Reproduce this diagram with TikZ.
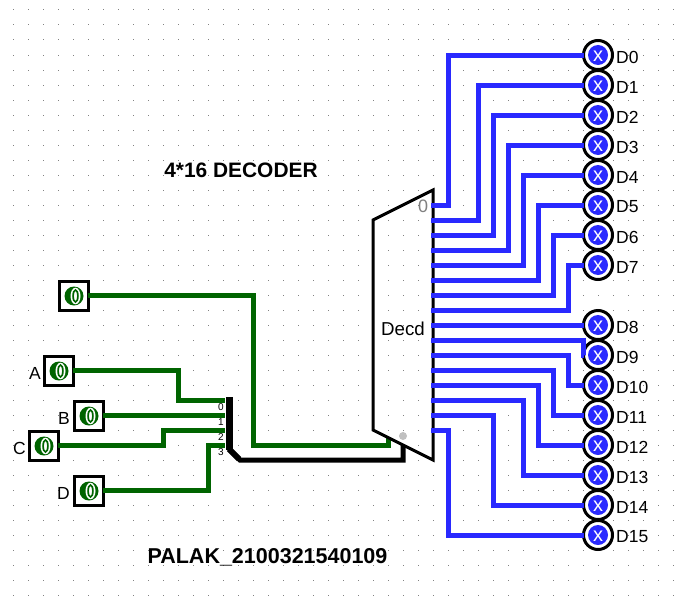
\documentclass[tikz,border=0pt]{standalone}
\usepackage{fontspec}
\setmainfont{Liberation Sans}
\definecolor{wgreen}{RGB}{0,100,0}
\definecolor{wblue}{RGB}{41,41,255}
\definecolor{griddot}{RGB}{130,130,130}
\definecolor{pinlabel}{RGB}{128,128,128}
\definecolor{enabledot}{RGB}{192,192,192}
\tikzset{
  gwire/.style={draw=wgreen,line width=5pt,line join=miter},
  bwire/.style={draw=wblue,line width=5pt,line join=miter},
  bus/.style={draw=black,line width=5pt,line join=miter},
  inbox/.style={draw=black,line width=3.4pt,fill=white,minimum size=29pt,inner sep=0pt,outer sep=0pt,rectangle,
    path picture={
      \fill[wgreen] (path picture bounding box.center) circle[radius=9.5pt];
      \fill[white] ([xshift=1.5pt]path picture bounding box.center) ellipse[x radius=5pt,y radius=8.3pt];
      \draw[wgreen,line width=1.7pt] ([xshift=1.5pt]path picture bounding box.center) ellipse[x radius=2.4pt,y radius=6pt];
    }},
  ledring/.style={circle,draw=black,line width=3pt,fill=white,minimum size=29pt,inner sep=0pt,outer sep=0pt,
    path picture={
      \fill[wblue] (path picture bounding box.center) circle[radius=10pt];
      \node[white,font=\fontsize{20}{20}\selectfont,inner sep=0pt] at ([yshift=-1pt]path picture bounding box.center) {x};
    }},
  lab/.style={font=\fontsize{17.5}{17.5}\selectfont,inner sep=0pt,text=black},
  ttl/.style={font=\bfseries\fontsize{20.9}{20.9}\selectfont,inner sep=0pt},
  sgn/.style={font=\bfseries\fontsize{21.5}{21.5}\selectfont,inner sep=0pt},
  sp/.style={font=\fontsize{10}{10}\selectfont,inner sep=0pt},
}
\begin{document}
\begin{tikzpicture}[x=1pt,y=-1pt]
\useasboundingbox (0,0) rectangle (676,610);
\fill[white] (0,0) rectangle (676,610);
% grid
\foreach \gx in {13,28,...,673}{\foreach \gy in {10,25,...,605}{\fill[griddot] (\gx-0.5,\gy-0.5) rectangle (\gx+0.5,\gy+0.5);}}
% titles
\node[ttl] (title) at (241,170) {4*16 DECODER};
\node[sgn] (sign) at (267.5,557) {PALAK\_2100321540109};
% inputs
\node[inbox] (en) at (74,296) {};
\node[inbox] (a) at (59,371) {};
\node[inbox] (b) at (89,416) {};
\node[inbox] (c) at (44,446) {};
\node[inbox] (d) at (89,491) {};
\node[lab,anchor=east] (la) at (41,373) {A};
\node[lab,anchor=east] (lb) at (70,418) {B};
\node[lab,anchor=east] (lc) at (26,448) {C};
\node[lab,anchor=east] (ld) at (70,493) {D};
% decoder
\coordinate (dtl) at (373,220);
\coordinate (dtr) at (433,190);
\coordinate (dbr) at (433,460);
\coordinate (dbl) at (373,430);
\coordinate (sel) at (403,445);
\coordinate (enp) at (388,438);
\foreach \i [evaluate=\i as \yy using int(205+15*\i)] in {0,...,15}{\coordinate (q\i) at (431,\yy);}
% splitter
\coordinate (s0) at (225,400);
\coordinate (s1) at (225,415);
\coordinate (s2) at (225,430);
\coordinate (s3) at (225,445);
\coordinate (stop) at (229,397);
\coordinate (sbot) at (229,449);
\coordinate (sknee) at (240,460);
\coordinate (skneeb) at (403,460);
\foreach \n/\yy in {0/407,1/422,2/437,3/452}{\node[sp] (sl\n) at (221,\yy) {\n};}
% input wires
\draw[gwire] (en.east) ++(-1,-1) -- (253,295) -- (253,445) -- (388,445) -- (enp);
\draw[gwire] (a.east) ++(-1,-1) -- (178,370) -- (178,400) -- (s0);
\draw[gwire] (b.east) ++(-1,-1) -- (s1);
\draw[gwire] (c.east) ++(-1,-1) -- (163,445) -- (163,430) -- (s2);
\draw[gwire] (d.east) ++(-1,-1) -- (208,490) -- (208,445) -- (s3);
% bus
\draw[bus] (sel) -- (skneeb) -- (sknee) -- (sbot);
\draw[draw=black,line width=7pt] (sbot) ++(0,1) -- (stop);
\draw[draw=black,line width=6pt] (sknee) ++(-1,-1) -- (sbot);
% decoder body
\draw[black,line width=3pt,line join=miter] (dtl) -- (dtr) -- (dbr) -- (dbl) -- cycle;
\fill[enabledot] (403,436) circle[radius=4pt];
\node[lab,font=\fontsize{18.7}{18.7}\selectfont] (dlab) at (403,329) {Decd};
\node[font=\fontsize{18}{18}\selectfont,text=pinlabel,inner sep=0pt] (p0) at (423,206) {0};
% LEDs
\foreach \i/\yy in {0/55,1/85,2/115,3/145,4/175,5/205,6/235,7/265,8/325,9/355,10/385,11/415,12/445,13/475,14/505,15/535}{
  \node[ledring] (d\i) at (598,\yy) {};
  \node[lab,anchor=west] (t\i) at (616,\yy+2) {D\i};
}
% output wires
\foreach \i/\xx in {0/448,1/478,2/493,3/508,4/523,5/538,6/553,7/568,9/583,10/568,11/553,12/538,13/523,14/493,15/448}{
  \coordinate (v) at (\xx,0);
  \draw[bwire] (q\i) -- (q\i -| v) -- (v |- d\i.west) -- (d\i.west);
}
\draw[bwire] (q8) -- (d8.west);
\end{tikzpicture}
\end{document}
